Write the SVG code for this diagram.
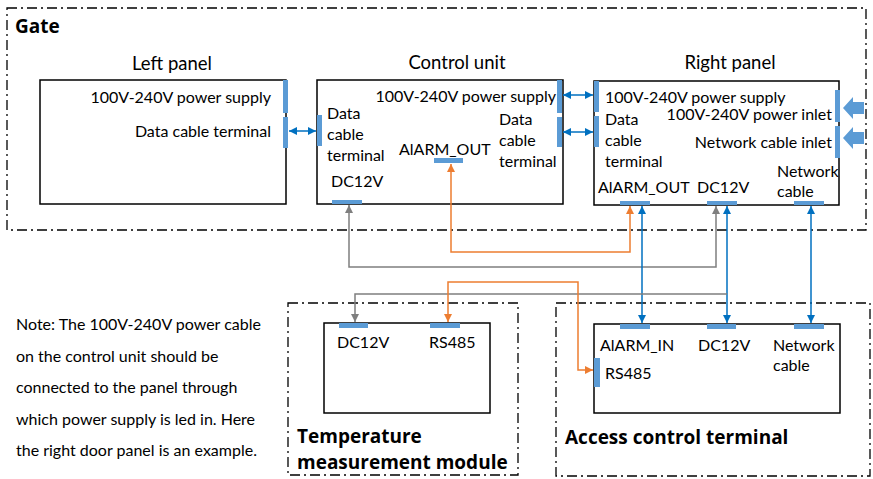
<svg xmlns="http://www.w3.org/2000/svg" width="873" height="479" viewBox="0 0 873 479">
<style>
.frame{fill:none;stroke:#000;stroke-width:1.3;stroke-dasharray:10,4,2,4}
.box{fill:#fff;stroke:#000;stroke-width:1.5}
.bar{fill:#5B9BD5}
.t{font-family:Lato,"Liberation Sans",sans-serif;font-size:16px;fill:#000}
.h{font-family:"Open Sans","Liberation Sans",sans-serif;font-size:19px;font-weight:bold;fill:#000}
.ttl{font-family:Lato,"Liberation Sans",sans-serif;font-size:18.5px;fill:#000;text-anchor:middle}
.e{text-anchor:end}
.blue{fill:none;stroke:#0070C0;stroke-width:1.5;marker-start:url(#ab);marker-end:url(#ab)}
.orange{fill:none;stroke:#ED7D31;stroke-width:1.5;marker-start:url(#ao);marker-end:url(#ao)}
.gray{fill:none;stroke:#7F7F7F;stroke-width:1.5;marker-start:url(#ag);marker-end:url(#ag)}
.fat{fill:#5B9BD5}
</style>
<defs>
<marker id="ab" markerUnits="userSpaceOnUse" markerWidth="9" markerHeight="8" refX="8" refY="4" orient="auto-start-reverse"><path d="M0,0 L8,4 L0,8 z" fill="#0070C0"/></marker>
<marker id="ao" markerUnits="userSpaceOnUse" markerWidth="9" markerHeight="8" refX="8" refY="4" orient="auto-start-reverse"><path d="M0,0 L8,4 L0,8 z" fill="#ED7D31"/></marker>
<marker id="ag" markerUnits="userSpaceOnUse" markerWidth="9" markerHeight="8" refX="8" refY="4" orient="auto-start-reverse"><path d="M0,0 L8,4 L0,8 z" fill="#7F7F7F"/></marker>
</defs>
<rect width="873" height="479" fill="#fff"/>

<g id="gate">
<rect class="frame" x="7" y="8" width="859" height="222"/>
<text class="h" x="15" y="33">Gate</text>
</g>

<g id="left-panel">
<text class="ttl" x="172" y="70">Left panel</text>
<rect class="box" x="40" y="80" width="246" height="124"/>
<rect class="bar" x="283" y="80" width="5" height="33"/>
<rect class="bar" x="283" y="117" width="5" height="31"/>
<text class="t e" x="271" y="103">100V-240V power supply</text>
<text class="t e" x="271" y="137">Data cable terminal</text>
</g>

<g id="control-unit">
<text class="ttl" x="457" y="69">Control unit</text>
<rect class="box" x="317" y="80" width="246" height="124"/>
<rect class="bar" x="557" y="80" width="5" height="33"/>
<rect class="bar" x="557" y="117" width="5" height="30"/>
<rect class="bar" x="317" y="115" width="5" height="31"/>
<rect class="bar" x="434" y="158" width="29" height="5"/>
<rect class="bar" x="332" y="200" width="30" height="4"/>
<text class="t e" x="556" y="102">100V-240V power supply</text>
<text class="t" x="327" y="119">Data</text>
<text class="t" x="327" y="140">cable</text>
<text class="t" x="327" y="161">terminal</text>
<text class="t" x="399" y="155">AlARM_OUT</text>
<text class="t" x="331" y="187">DC12V</text>
<text class="t" x="499" y="125">Data</text>
<text class="t" x="499" y="146">cable</text>
<text class="t" x="499" y="167">terminal</text>
</g>

<g id="right-panel">
<text class="ttl" x="730" y="69">Right panel</text>
<rect class="box" x="594" y="81" width="245" height="124"/>
<rect class="bar" x="594" y="81" width="5" height="31"/>
<rect class="bar" x="594" y="116" width="5" height="31"/>
<rect class="bar" x="835" y="90" width="5" height="32"/>
<rect class="bar" x="835" y="126" width="5" height="32"/>
<rect class="bar" x="620" y="201" width="30" height="4"/>
<rect class="bar" x="707" y="201" width="30" height="4"/>
<rect class="bar" x="794" y="201" width="30" height="4"/>
<text class="t" x="605" y="103">100V-240V power supply</text>
<text class="t e" x="832" y="120">100V-240V power inlet</text>
<text class="t" x="605" y="125">Data</text>
<text class="t" x="605" y="146">cable</text>
<text class="t" x="605" y="167">terminal</text>
<text class="t e" x="832" y="148">Network cable inlet</text>
<text class="t" x="777" y="177">Network</text>
<text class="t" x="777" y="197">cable</text>
<text class="t" x="598" y="193">AlARM_OUT</text>
<text class="t" x="697" y="193">DC12V</text>
<polygon class="fat" points="843,108 853,97 853,102 864,102 864,114 853,114 853,119"/>
<polygon class="fat" points="843,138 853,127 853,132 864,132 864,144 853,144 853,149"/>
</g>

<g id="temperature-module">
<rect class="frame" x="288" y="303" width="230" height="172"/>
<rect class="box" x="324" y="323" width="166" height="90"/>
<rect class="bar" x="339" y="323" width="29" height="5"/>
<rect class="bar" x="430" y="323" width="30" height="5"/>
<text class="t" x="337" y="348">DC12V</text>
<text class="t" x="429" y="348">RS485</text>
<text class="h" x="297" y="443">Temperature</text>
<text class="h" x="297" y="469">measurement module</text>
</g>

<g id="access-control-terminal">
<rect class="frame" x="556" y="303" width="314" height="173"/>
<rect class="box" x="594" y="324" width="246" height="89"/>
<rect class="bar" x="620" y="324" width="30" height="5"/>
<rect class="bar" x="707" y="324" width="29" height="5"/>
<rect class="bar" x="794" y="324" width="30" height="5"/>
<rect class="bar" x="594" y="358" width="6" height="29"/>
<text class="t" x="600" y="351">AlARM_IN</text>
<text class="t" x="698" y="351">DC12V</text>
<text class="t" x="773" y="351">Network</text>
<text class="t" x="773" y="371">cable</text>
<text class="t" x="605" y="379">RS485</text>
<text class="h" x="565" y="444">Access control terminal</text>
</g>

<g id="note">
<text class="t" x="16" y="330">Note: The 100V-240V power cable</text>
<text class="t" x="16" y="361.5">on the control unit should be</text>
<text class="t" x="16" y="393">connected to the panel through</text>
<text class="t" x="16" y="424.5">which power supply is led in. Here</text>
<text class="t" x="16" y="456">the right door panel is an example.</text>
</g>

<g id="connectors">
<path class="blue" d="M289,131 H316"/>
<path class="blue" d="M563,95 H593"/>
<path class="blue" d="M563,132 H593"/>
<path class="orange" d="M451,164 V252 H630 V206"/>
<path class="gray" d="M349,205 V267 H716 V206"/>
<path class="blue" d="M642,206 V323"/>
<path class="blue" d="M727,206 V323"/>
<path class="blue" d="M811,206 V323"/>
<path class="gray" style="marker-start:none" d="M727,294 H355 V322"/>
<path class="orange" d="M448,322 V282 H578 V370 H593"/>
</g>
</svg>
